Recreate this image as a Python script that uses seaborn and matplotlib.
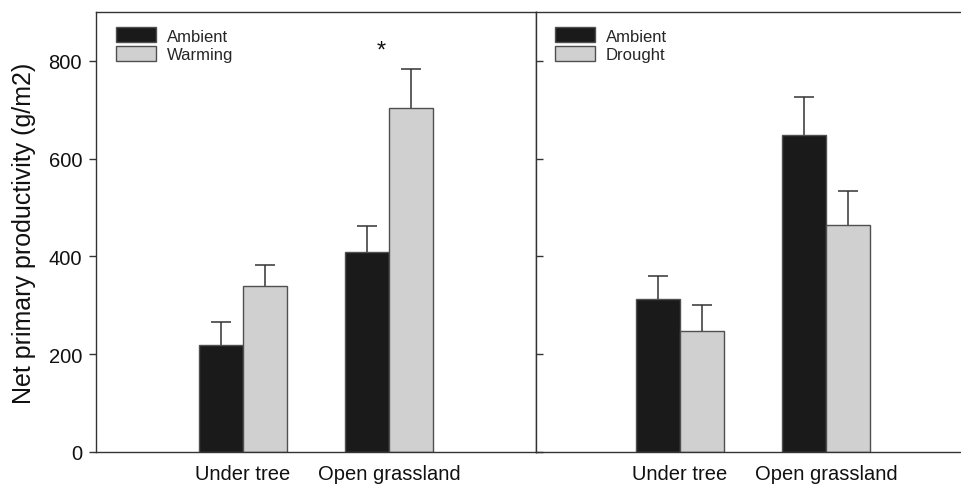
import matplotlib
matplotlib.use("Agg")
import matplotlib.pyplot as plt
from matplotlib.patches import Patch
import numpy as np
import pandas as pd
import seaborn as sns

sns.set_theme(style="white")
plt.rcParams["font.family"] = ["Liberation Sans", "DejaVu Sans"]

# Sites on the x axis
sites = ["Under tree", "Open grassland"]

# Warming experiment (left panel)
warm_levels = ["Ambient", "Warming"]
warm_ambient = [219, 410]
warm_ambient_se = [47, 53]
warm_treated = [340, 703]
warm_treated_se = [43, 81]

# Drought experiment (right panel)
drought_levels = ["Ambient", "Drought"]
drought_ambient = [313, 649]
drought_ambient_se = [48, 78]
drought_treated = [247, 464]
drought_treated_se = [54, 69]

yticks = [0, 200, 400, 600, 800]
colors = ["#1a1a1a", "#d0d0d0"]
edge = "#505050"


def make_frame(levels, a, b, a_se, b_se):
    rows = []
    for lvl, vals, ses in ((levels[0], a, a_se), (levels[1], b, b_se)):
        for s, v, e in zip(sites, vals, ses):
            rows.append({"site": s, "treatment": lvl, "npp": v, "se": e})
    return pd.DataFrame(rows)


def draw_panel(ax, df, levels):
    sns.barplot(data=df, x="site", y="npp", hue="treatment", order=sites,
                hue_order=levels, palette=colors, width=0.6,
                edgecolor=edge, linewidth=1.0, errorbar=None, legend=False,
                ax=ax)
    # upward-only standard error bars, drawn from each bar's top
    for lvl, cont in zip(levels, ax.containers):
        sub = df[df["treatment"] == lvl].set_index("site").loc[sites]
        xs = [p.get_x() + p.get_width() / 2 for p in cont.patches]
        hs = [p.get_height() for p in cont.patches]
        _, caps, _ = ax.errorbar(xs, hs, yerr=[np.zeros(len(hs)), sub["se"].values],
                                 fmt="none", ecolor="#333333", elinewidth=1.1,
                                 capsize=7, capthick=1.1, zorder=1)
        # keep only the upper cap
        if len(caps) == 2:
            caps[0].set_visible(False)
        for p in cont.patches:
            p.set_zorder(3)
    ax.set_ylim(0, 900)
    ax.set_yticks(yticks)
    ax.set_xlabel("")
    ax.tick_params(axis="x", length=0, pad=8.5, labelsize=14.5, colors="#111111")
    for sp in ax.spines.values():
        sp.set_color("#333333")
        sp.set_linewidth(1.0)
        sp.set_zorder(4)
    handles = [Patch(facecolor=c, edgecolor=edge, linewidth=1.0) for c in colors]
    ax.legend(handles, levels, loc="upper left", bbox_to_anchor=(0.045, 0.965),
              frameon=False, fontsize=12, handlelength=2.4,
              handleheight=1.0, handletextpad=0.65, labelspacing=0.15,
              borderpad=0, borderaxespad=0)


fig = plt.figure(figsize=(9.61, 4.85), dpi=100)
ax1 = fig.add_axes([96 / 961, 1 - 453 / 485, 440 / 961, 440 / 485])
ax2 = fig.add_axes([536 / 961, 1 - 453 / 485, 425 / 961, 440 / 485])

draw_panel(ax1, make_frame(warm_levels, warm_ambient, warm_treated,
                           warm_ambient_se, warm_treated_se), warm_levels)
draw_panel(ax2, make_frame(drought_levels, drought_ambient, drought_treated,
                           drought_ambient_se, drought_treated_se), drought_levels)

ax1.set_xlim(-1.007, 2.007)
ax2.set_xlim(-0.986, 1.925)

ax1.set_ylabel("Net primary productivity (g/m2)", fontsize=18,
               color="#111111", labelpad=9)
ax1.tick_params(axis="y", direction="out", length=5, width=1.0,
                labelsize=14.5, colors="#333333", labelcolor="#111111", pad=5,
                left=True)
ax2.set_ylabel("")
ax2.tick_params(axis="y", direction="in", length=5, width=1.0,
                labelleft=False, colors="#333333", left=True)
ax2.spines["right"].set_visible(False)

# significance marker over the open grassland warming contrast
ax1.text(0.945, 822, "*", ha="center", va="center", fontsize=17,
         color="#111111")

fig.savefig("out.png", dpi=100)
